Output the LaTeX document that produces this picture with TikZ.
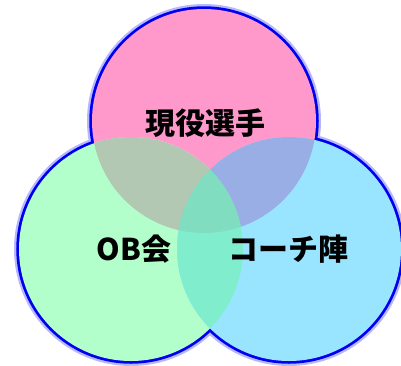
\documentclass[tikz,border=0pt]{standalone}
\usepackage{fontspec}
\newfontfamily\cjk{Noto Sans CJK JP}
\definecolor{cpink}{HTML}{FF99CC}
\definecolor{cgreen}{HTML}{B3FFCC}
\definecolor{cblue}{HTML}{99E5FF}
\definecolor{cpg}{HTML}{B3C8B3}
\definecolor{cpb}{HTML}{9AAEE6}
\definecolor{cgb}{HTML}{80EECC}
\definecolor{cpgb}{HTML}{80DDC0}
\definecolor{cglow}{HTML}{B8B8FF}
\definecolor{cline}{HTML}{0000F0}
\tikzset{
  glow/.style={draw=cglow, line width=10pt},
  rim/.style={draw=cline, line width=5.5pt},
  label/.style={font=\cjk\bfseries\fontsize{30}{32}\selectfont, text=black, inner sep=0pt}
}
\begin{document}
\begin{tikzpicture}[x=1pt,y=-1pt]
\useasboundingbox (0,0) rectangle (401,365);
\fill[white] (0,0) rectangle (401,365);
\coordinate (T) at (204,121);
\coordinate (L) at (131,249);
\coordinate (R) at (289,249);
\def\rr{112pt}
% outline (outer halves survive beneath the fills)
\foreach \c in {T,L,R} \draw[glow] (\c) circle[radius=\rr];
\foreach \c in {T,L,R} \draw[rim] (\c) circle[radius=\rr];
% fills
\fill[cpink] (T) circle[radius=\rr];
\fill[cgreen] (L) circle[radius=\rr];
\fill[cblue] (R) circle[radius=\rr];
\begin{scope}
  \clip (T) circle[radius=\rr];
  \fill[cpg] (L) circle[radius=\rr];
  \fill[cpb] (R) circle[radius=\rr];
\end{scope}
\begin{scope}
  \clip (L) circle[radius=\rr];
  \fill[cgb] (R) circle[radius=\rr];
  \clip (R) circle[radius=\rr];
  \fill[cpgb] (T) circle[radius=\rr];
\end{scope}
\node[label] (t1) at (205,123) {現役選手};
\node[label] (t2) at (134,249) {OB会};
\node[label] (t3) at (288,249) {コーチ陣};
\end{tikzpicture}
\end{document}
